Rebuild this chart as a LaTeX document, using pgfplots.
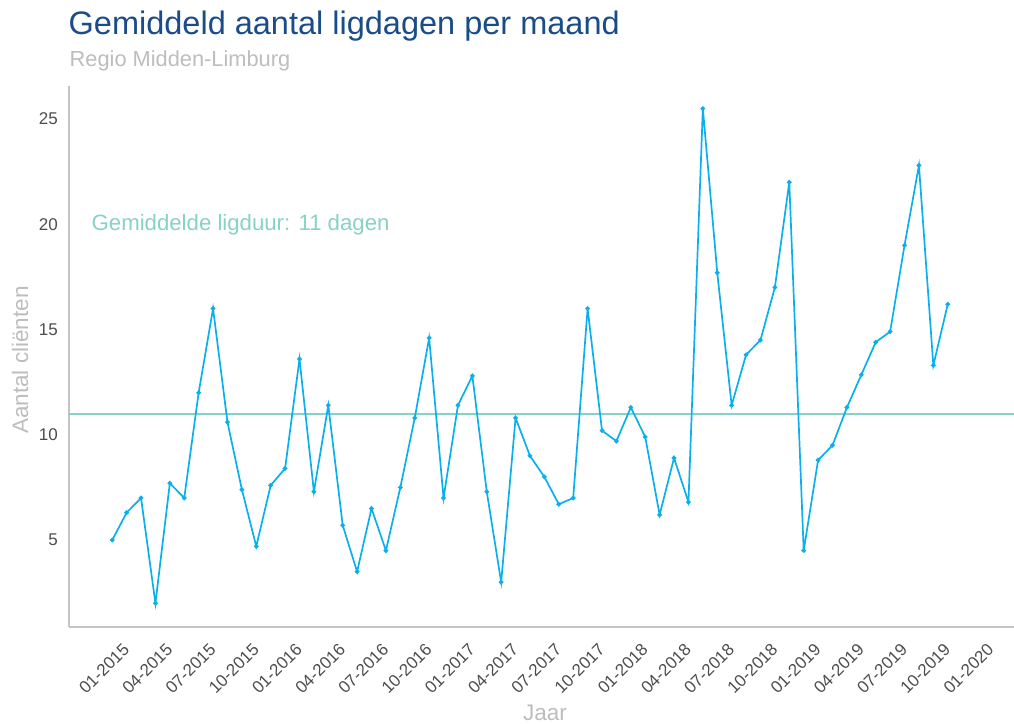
\documentclass[border=0pt]{standalone}
\usepackage{pgfplots}
\pgfplotsset{compat=1.18}
\usepackage{fontspec}
\setmainfont{Liberation Sans}
\definecolor{titleblue}{HTML}{1A4C89}
\definecolor{subgray}{HTML}{BDBDBD}
\definecolor{tealc}{HTML}{86D2C8}
\definecolor{lineblue}{HTML}{0AB0EC}
\definecolor{axgray}{HTML}{C4C4C4}
\definecolor{tickgray}{HTML}{4D4D4D}
\begin{document}
\begin{tikzpicture}
\path[use as bounding box] (-69pt,-96pt) rectangle (945pt,627pt);
\begin{axis}[
  at={(0pt,0pt)}, anchor=south west,
  scale only axis,
  width=945pt, height=541pt,
  xmin=-3, xmax=62.6,
  ymin=0.87, ymax=26.57,
  axis x line*=bottom, axis y line*=left,
  axis line style={-, draw=axgray, line width=1.6pt},
  tick style={draw=none},
  major tick length=0pt,
  xtick={0,3,...,60},
  xticklabels={01-2015,04-2015,07-2015,10-2015,01-2016,04-2016,07-2016,10-2016,01-2017,04-2017,07-2017,10-2017,01-2018,04-2018,07-2018,10-2018,01-2019,04-2019,07-2019,10-2019,01-2020},
  ytick={5,10,15,20,25},
  /pgf/number format/assume math mode=true,
  xticklabel style={font=\fontsize{17}{17}\selectfont, text=tickgray, inner sep=0pt, xshift=9.7pt, yshift=-15pt, rotate=45, anchor=north east},
  yticklabel style={font=\fontsize{17}{17}\selectfont, text=tickgray, inner sep=0pt, anchor=east, xshift=-11pt},
  clip=false,
]
\addplot[tealc, line width=2.2pt] coordinates {(-3,11) (62.6,11)};
\addplot[lineblue, line width=1.7pt, mark=*, mark size=1.4pt, mark options={fill=lineblue, draw=lineblue}] coordinates {
(0,5.0) (1,6.3) (2,7.0) (3,2.0) (4,7.7) (5,7.0) (6,12.0) (7,16.0) (8,10.6) (9,7.4)
(10,4.7) (11,7.6) (12,8.4) (13,13.6) (14,7.3) (15,11.4) (16,5.7) (17,3.5) (18,6.5) (19,4.5)
(20,7.5) (21,10.8) (22,14.6) (23,7.0) (24,11.4) (25,12.8) (26,7.3) (27,3.0) (28,10.8) (29,9.0)
(30,8.0) (31,6.7) (32,7.0) (33,16.0) (34,10.2) (35,9.7) (36,11.3) (37,9.9) (38,6.2) (39,8.9)
(40,6.8) (41,25.5) (42,17.7) (43,11.4) (44,13.8) (45,14.5) (46,17.0) (47,22.0) (48,4.5) (49,8.8)
(50,9.5) (51,11.3) (52,12.85) (53,14.4) (54,14.9) (55,19.0) (56,22.8) (57,13.3) (58,16.2)
};
\node[anchor=west, inner sep=0pt, text=tealc, font=\fontsize{22.2}{22.2}\selectfont] at (axis cs:-1.44,20) {Gemiddelde ligduur: 11 dagen};
\end{axis}
\node[anchor=base west, inner sep=0pt, text=titleblue, font=\fontsize{32.5}{32.5}\selectfont] at (-0.5pt,592pt) {Gemiddeld aantal ligdagen per maand};
\node[anchor=base west, inner sep=0pt, text=subgray, font=\fontsize{21.8}{21.8}\selectfont] at (0.5pt,560pt) {Regio Midden-Limburg};
\node[rotate=90, anchor=center, inner sep=0pt, text=subgray, font=\fontsize{22.5}{22.5}\selectfont] at (-49pt,267pt) {Aantal cliënten};
\node[anchor=base, inner sep=0pt, text=subgray, font=\fontsize{22.5}{22.5}\selectfont] at (476pt,-93pt) {Jaar};
\end{tikzpicture}
\end{document}
